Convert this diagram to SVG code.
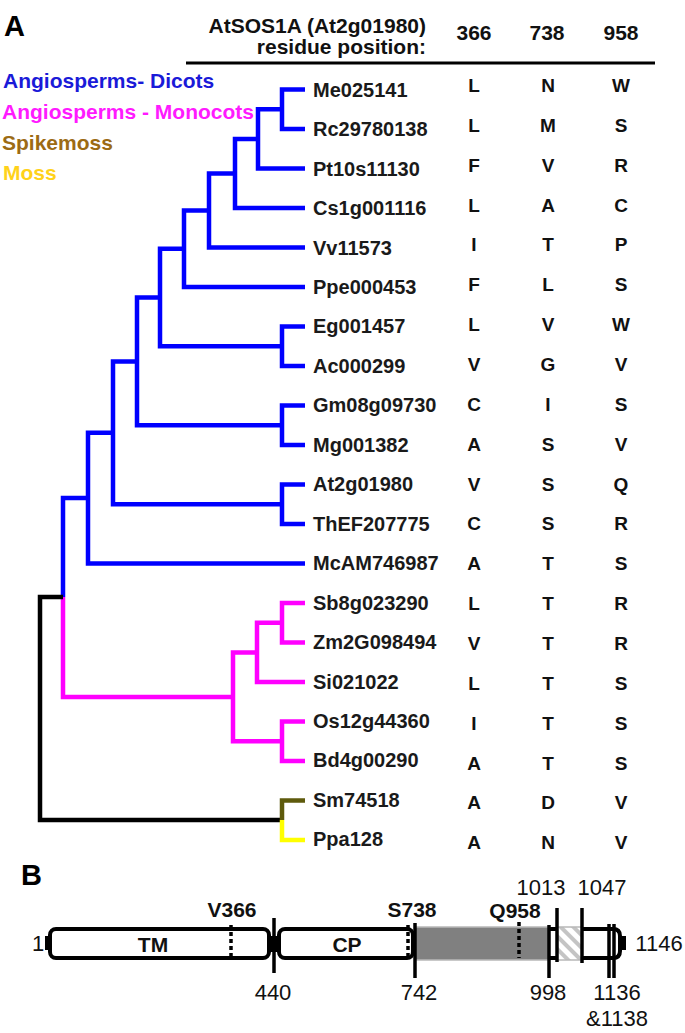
<svg xmlns="http://www.w3.org/2000/svg" width="685" height="1033" viewBox="0 0 685 1033">
<style>
text{font-family:"Liberation Sans",Arial,Helvetica,sans-serif}
.pl{font-weight:bold;font-size:29px;fill:#000}
.hd{font-weight:bold;font-size:21px;fill:#111;text-anchor:end}
.hn{font-weight:bold;font-size:21px;fill:#111;text-anchor:middle}
.lg{font-weight:bold;font-size:21px}
.nm{font-weight:bold;font-size:20px;fill:#1a1a1a}
.rs{font-weight:bold;font-size:19px;fill:#111;text-anchor:middle}
.br{fill:none;stroke-width:4.5;stroke-linejoin:miter;stroke-linecap:butt}
.bl{stroke:#0000ff}.mg{stroke:#ff00ff}.bk{stroke:#000}.ol{stroke:#5e5a0c}.yl{stroke:#ffff00}
.bx{fill:#fff;stroke:#000;stroke-width:4}
.vl{stroke:#000;stroke-width:3.5}
.dt{stroke:#000;stroke-width:3.5;stroke-dasharray:4 3}
.bb{font-weight:bold;font-size:21px;fill:#111;text-anchor:middle}
.nb{font-size:22px;fill:#111;text-anchor:middle}
</style>
<defs>
<pattern id="hatch" width="9" height="9" patternUnits="userSpaceOnUse" patternTransform="rotate(-45)">
<rect width="9" height="9" fill="#ffffff"/>
<rect width="4" height="9" fill="#c4c4c4"/>
</pattern>
</defs>
<rect width="685" height="1033" fill="#fff"/>

<!-- Panel A header -->
<g id="header">
<text class="pl" x="4" y="36">A</text>
<text class="hd" x="426" y="33">AtSOS1A (At2g01980)</text>
<text class="hd" x="426" y="54">residue position:</text>
<text class="hn" x="474" y="40">366</text>
<text class="hn" x="547" y="40">738</text>
<text class="hn" x="621" y="40">958</text>
<line x1="186" y1="63" x2="655" y2="63" stroke="#000" stroke-width="3"/>
</g>

<g id="legend">
<text class="lg" x="3" y="88" fill="#1a1ad8">Angiosperms- Dicots</text>
<text class="lg" x="2" y="119" fill="#ff1aff">Angiosperms - Monocots</text>
<text class="lg" x="2" y="150" fill="#9c6b14">Spikemoss</text>
<text class="lg" x="3" y="180" fill="#ffd21a">Moss</text>
</g>

<!-- Tree branches -->
<g id="connectors">
<path class="br bl" d="M305,89.5 H282 V129 H305"/>
<path class="br bl" d="M282,109.25 H258 V168.5 H305"/>
<path class="br bl" d="M258,138.9 H235 V208 H305"/>
<path class="br bl" d="M235,173.4 H209 V247.5 H305"/>
<path class="br bl" d="M209,210.5 H184 V287 H305"/>
<path class="br bl" d="M305,326.5 H282 V366 H305"/>
<path class="br bl" d="M184,248.7 H160 V346.25 H282"/>
<path class="br bl" d="M305,405.5 H282 V445 H305"/>
<path class="br bl" d="M160,297.5 H137 V425.25 H282"/>
<path class="br bl" d="M305,484.5 H282 V524 H305"/>
<path class="br bl" d="M137,361.4 H113 V504.25 H282"/>
<path class="br bl" d="M113,432.8 H88 V563.5 H305"/>
<path class="br bl" d="M88,498 H63 V597"/>
<path class="br mg" d="M63,597 V697 H233"/>
<path class="br mg" d="M305,603 H282 V642.5 H305"/>
<path class="br mg" d="M282,622.75 H257 V682 H305"/>
<path class="br mg" d="M305,721.5 H282 V761 H305"/>
<path class="br mg" d="M257,652.4 H233 V741.25 H282"/>
<path class="br bk" d="M63,597 H40 V820 H282"/>
<path class="br ol" d="M305,800.5 H282 V820"/>
<path class="br yl" d="M282,820 V840 H305"/>
</g>

<!-- Leaves -->
<g id="n-Me025141"><text class="nm" x="313" y="96.7">Me025141</text><text class="rs" x="474" y="92">L</text><text class="rs" x="548" y="92">N</text><text class="rs" x="621" y="92">W</text></g>
<g id="n-Rc29780138"><text class="nm" x="313" y="136.2">Rc29780138</text><text class="rs" x="474" y="131.9">L</text><text class="rs" x="548" y="131.9">M</text><text class="rs" x="621" y="131.9">S</text></g>
<g id="n-Pt10s11130"><text class="nm" x="313" y="175.6">Pt10s11130</text><text class="rs" x="474" y="171.7">F</text><text class="rs" x="548" y="171.7">V</text><text class="rs" x="621" y="171.7">R</text></g>
<g id="n-Cs1g001116"><text class="nm" x="313" y="215.1">Cs1g001116</text><text class="rs" x="474" y="211.6">L</text><text class="rs" x="548" y="211.6">A</text><text class="rs" x="621" y="211.6">C</text></g>
<g id="n-Vv11573"><text class="nm" x="313" y="254.5">Vv11573</text><text class="rs" x="474" y="251.4">I</text><text class="rs" x="548" y="251.4">T</text><text class="rs" x="621" y="251.4">P</text></g>
<g id="n-Ppe000453"><text class="nm" x="313" y="294">Ppe000453</text><text class="rs" x="474" y="291.3">F</text><text class="rs" x="548" y="291.3">L</text><text class="rs" x="621" y="291.3">S</text></g>
<g id="n-Eg001457"><text class="nm" x="313" y="333.4">Eg001457</text><text class="rs" x="474" y="331.1">L</text><text class="rs" x="548" y="331.1">V</text><text class="rs" x="621" y="331.1">W</text></g>
<g id="n-Ac000299"><text class="nm" x="313" y="372.9">Ac000299</text><text class="rs" x="474" y="371">V</text><text class="rs" x="548" y="371">G</text><text class="rs" x="621" y="371">V</text></g>
<g id="n-Gm08g09730"><text class="nm" x="313" y="412.3">Gm08g09730</text><text class="rs" x="474" y="410.8">C</text><text class="rs" x="548" y="410.8">I</text><text class="rs" x="621" y="410.8">S</text></g>
<g id="n-Mg001382"><text class="nm" x="313" y="451.8">Mg001382</text><text class="rs" x="474" y="450.7">A</text><text class="rs" x="548" y="450.7">S</text><text class="rs" x="621" y="450.7">V</text></g>
<g id="n-At2g01980"><text class="nm" x="313" y="491.2">At2g01980</text><text class="rs" x="474" y="490.5">V</text><text class="rs" x="548" y="490.5">S</text><text class="rs" x="621" y="490.5">Q</text></g>
<g id="n-ThEF207775"><text class="nm" x="313" y="530.7">ThEF207775</text><text class="rs" x="474" y="530.4">C</text><text class="rs" x="548" y="530.4">S</text><text class="rs" x="621" y="530.4">R</text></g>
<g id="n-McAM746987"><text class="nm" x="313" y="570.1">McAM746987</text><text class="rs" x="474" y="570.2">A</text><text class="rs" x="548" y="570.2">T</text><text class="rs" x="621" y="570.2">S</text></g>
<g id="n-Sb8g023290"><text class="nm" x="313" y="609.6">Sb8g023290</text><text class="rs" x="474" y="610.1">L</text><text class="rs" x="548" y="610.1">T</text><text class="rs" x="621" y="610.1">R</text></g>
<g id="n-Zm2G098494"><text class="nm" x="313" y="649">Zm2G098494</text><text class="rs" x="474" y="649.9">V</text><text class="rs" x="548" y="649.9">T</text><text class="rs" x="621" y="649.9">R</text></g>
<g id="n-Si021022"><text class="nm" x="313" y="688.5">Si021022</text><text class="rs" x="474" y="689.8">L</text><text class="rs" x="548" y="689.8">T</text><text class="rs" x="621" y="689.8">S</text></g>
<g id="n-Os12g44360"><text class="nm" x="313" y="727.9">Os12g44360</text><text class="rs" x="474" y="729.6">I</text><text class="rs" x="548" y="729.6">T</text><text class="rs" x="621" y="729.6">S</text></g>
<g id="n-Bd4g00290"><text class="nm" x="313" y="767.4">Bd4g00290</text><text class="rs" x="474" y="769.5">A</text><text class="rs" x="548" y="769.5">T</text><text class="rs" x="621" y="769.5">S</text></g>
<g id="n-Sm74518"><text class="nm" x="313" y="806.8">Sm74518</text><text class="rs" x="474" y="809.3">A</text><text class="rs" x="548" y="809.3">D</text><text class="rs" x="621" y="809.3">V</text></g>
<g id="n-Ppa128"><text class="nm" x="313" y="846.3">Ppa128</text><text class="rs" x="474" y="849.2">A</text><text class="rs" x="548" y="849.2">N</text><text class="rs" x="621" y="849.2">V</text></g>

<!-- Panel B -->
<g id="panelB">
<text class="pl" x="21" y="885">B</text>
<rect x="45" y="936" width="6" height="14" fill="#000"/>
<rect class="bx" x="50" y="929" width="219" height="29" rx="6"/>
<rect x="269" y="936" width="10" height="16" fill="#000"/>
<rect class="bx" x="279" y="929" width="134" height="29" rx="6"/>
<rect x="415" y="927" width="134" height="33" fill="#808080" stroke="#b8b8b8" stroke-width="1.5"/>
<path d="M549,929 H557 M549,958 H557" stroke="#000" stroke-width="4" fill="none"/>
<rect x="557" y="927" width="25" height="33" fill="url(#hatch)" stroke="#b8b8b8" stroke-width="1.5"/>
<path class="bx" d="M582,929 H613 Q620,929 620,936 V951 Q620,958 613,958 H582"/>
<rect x="620" y="936" width="6" height="14" fill="#000"/>
<line class="dt" x1="231" y1="925" x2="231" y2="960"/>
<line class="dt" x1="408" y1="925" x2="408" y2="958"/>
<line class="dt" x1="519" y1="922" x2="519" y2="958"/>
<line class="vl" x1="274" y1="918" x2="274" y2="973"/>
<line class="vl" x1="415" y1="923" x2="415" y2="978"/>
<line class="vl" x1="549" y1="925" x2="549" y2="978"/>
<line class="vl" x1="557" y1="908" x2="557" y2="962"/>
<line class="vl" x1="582" y1="908" x2="582" y2="963"/>
<line class="vl" x1="609" y1="924" x2="609" y2="978"/>
<line class="vl" x1="614" y1="924" x2="614" y2="978"/>
<text class="bb" x="153" y="952">TM</text>
<text class="bb" x="347" y="952">CP</text>
<text class="bb" x="232" y="917">V366</text>
<text class="bb" x="412" y="917">S738</text>
<text class="bb" x="515" y="918">Q958</text>
<text class="nb" x="38" y="951">1</text>
<text class="nb" x="273" y="1000">440</text>
<text class="nb" x="419" y="1000">742</text>
<text class="nb" x="548" y="1000">998</text>
<text class="nb" x="617" y="1000">1136</text>
<text class="nb" x="617" y="1026">&amp;1138</text>
<text class="nb" x="541" y="895">1013</text>
<text class="nb" x="602" y="895">1047</text>
<text class="nb" x="659" y="951">1146</text>
</g>
</svg>
